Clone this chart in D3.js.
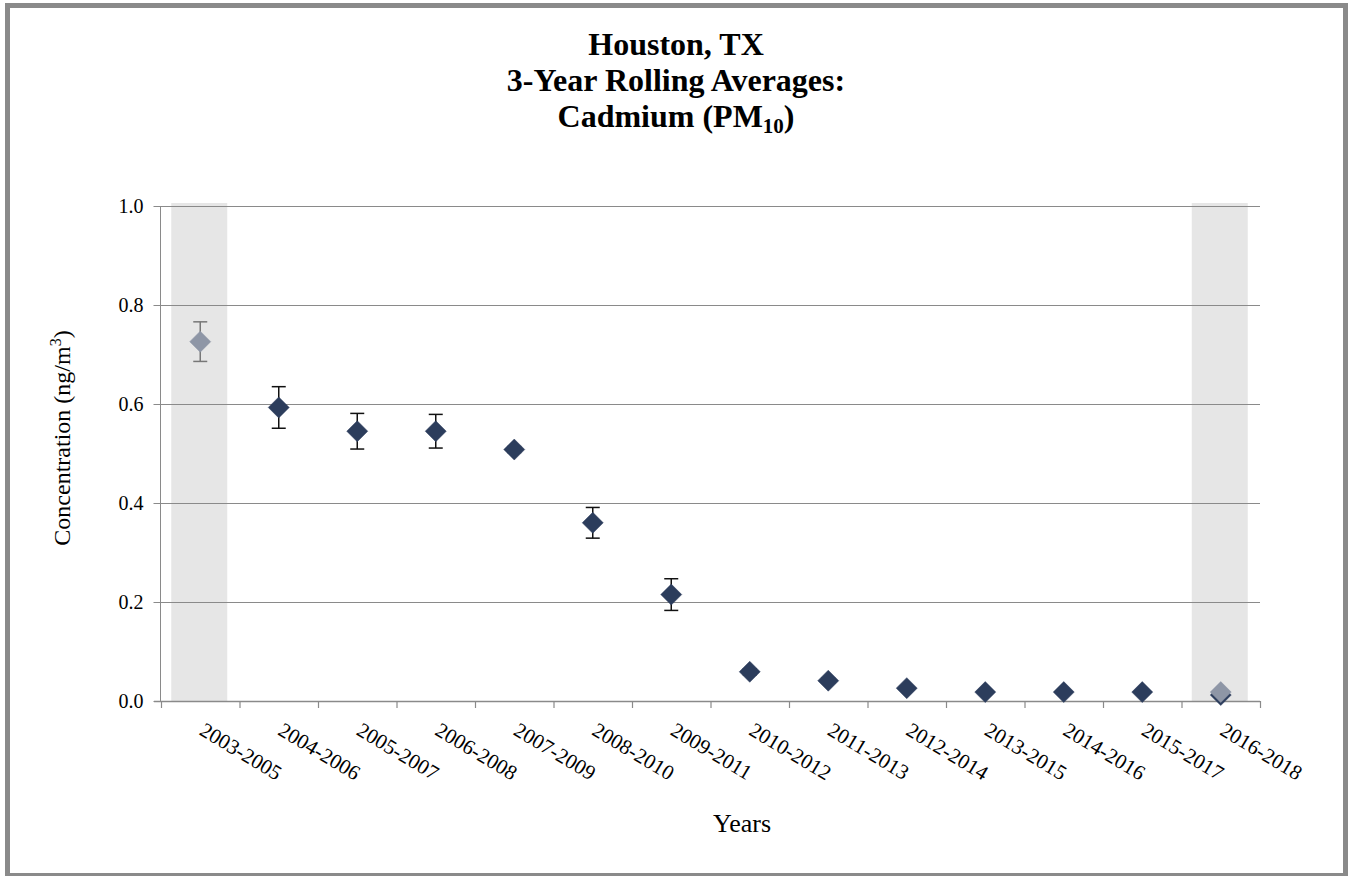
<!DOCTYPE html>
<html>
<head>
<meta charset="utf-8">
<script src="https://cdn.jsdelivr.net/npm/d3@7"></script>
<style>
  html, body { margin: 0; padding: 0; background: #fff; }
  svg { display: block; }
  text { font-family: "Liberation Serif", "Times New Roman", serif; fill: #000; }
</style>
</head>
<body>
<script>
// ---- data ----
const categories = ["2003-2005","2004-2006","2005-2007","2006-2008","2007-2009","2008-2010","2009-2011",
  "2010-2012","2011-2013","2012-2014","2013-2015","2014-2016","2015-2017","2016-2018"];
const mainValues = [null, 0.593, 0.545, 0.545, 0.508, 0.360, 0.215, 0.059, 0.041, 0.026, 0.018, 0.018, 0.018, 0.012];
const mainErrors = [null, 0.042, 0.036, 0.034, 0.006, 0.031, 0.032, 0.006, 0.005, 0.004, 0.003, 0.003, 0.003, 0.003];
const partialValues = [0.726, null, null, null, null, null, null, null, null, null, null, null, null, 0.018];
const partialErrors = [0.040, null, null, null, null, null, null, null, null, null, null, null, null, 0.003];
const shadedCategories = ["2003-2005", "2016-2018"];
const yTicks = [0.0, 0.2, 0.4, 0.6, 0.8, 1.0];

const W = 1352, H = 876;
const svg = d3.select("body").append("svg").attr("width", W).attr("height", H);

// frame
svg.append("rect").attr("x", 7.5).attr("y", 5.5).attr("width", 1338).attr("height", 870)
  .attr("fill", "#fff").attr("stroke", "#8a8a8a").attr("stroke-width", 5);

const x = d3.scaleBand().domain(categories).range([161, 1260]).paddingInner(0).paddingOuter(0);
const y = d3.scaleLinear().domain([0, 1]).range([701, 206]);

// shaded bands
svg.selectAll("rect.shade").data(shadedCategories).enter().append("rect")
  .attr("class", "shade")
  .attr("x", d => x(d) + x.bandwidth() / 2 - 29)
  .attr("y", y(1) - 3)
  .attr("width", 56)
  .attr("height", y(0) - y(1) + 3)
  .attr("fill", "#e6e6e6");

// gridlines + y axis
const yAxis = d3.axisLeft(y).tickValues(yTicks).tickFormat(d3.format(".1f"))
  .tickSize(-(1260 - 161)).tickPadding(12);
const gy = svg.append("g").attr("transform", "translate(160.5,0)").call(yAxis);
gy.select(".domain").attr("stroke", "#8a8a8a").attr("d", `M0,${y(1)}V${y(0)}`);
gy.selectAll(".tick line").attr("stroke", "#8a8a8a").attr("stroke-width", 1.2)
  .attr("x1", -7).attr("x2", 1260 - 160.5);
gy.selectAll(".tick text").attr("font-size", 20).attr("font-family", "Liberation Serif")
  .attr("fill", "#111").attr("x", -17);

// x axis
const boundaries = categories.map(c => x(c)).concat([x.range()[1]]);
const gx = svg.append("g");
gx.append("line").attr("x1", 154).attr("x2", 1260).attr("y1", y(0) + 0.5).attr("y2", y(0) + 0.5)
  .attr("stroke", "#8a8a8a").attr("stroke-width", 1.5);
gx.selectAll("line.tk").data(boundaries).enter().append("line")
  .attr("class", "tk")
  .attr("x1", d => d + 0.5).attr("x2", d => d + 0.5)
  .attr("y1", y(0)).attr("y2", y(0) + 7)
  .attr("stroke", "#8a8a8a").attr("stroke-width", 1.2);
gx.selectAll("text.xl").data(categories).enter().append("text")
  .attr("class", "xl")
  .attr("font-size", 21)
  .attr("text-anchor", "start")
  .attr("transform", d => `translate(${x(d) + x.bandwidth() / 2 - 2},${y(0) + 33}) rotate(31)`)
  .text(d => d);

// error bars + diamonds
const diamond = "M0,-10.5L10.5,0L0,10.5L-10.5,0Z";
function drawSeries(values, errors, fill, barColor) {
  const pts = categories.map((c, i) => ({ c, v: values[i], e: errors[i] })).filter(d => d.v != null);
  const g = svg.append("g");
  const eb = g.selectAll("g.eb").data(pts).enter().append("g").attr("class", "eb");
  eb.append("line")
    .attr("x1", d => x(d.c) + x.bandwidth() / 2).attr("x2", d => x(d.c) + x.bandwidth() / 2)
    .attr("y1", d => y(d.v + d.e)).attr("y2", d => y(d.v - d.e))
    .attr("stroke", barColor).attr("stroke-width", 1.5);
  [1, -1].forEach(s => {
    eb.append("line")
      .attr("x1", d => x(d.c) + x.bandwidth() / 2 - 7).attr("x2", d => x(d.c) + x.bandwidth() / 2 + 7)
      .attr("y1", d => y(d.v + s * d.e)).attr("y2", d => y(d.v + s * d.e))
      .attr("stroke", barColor).attr("stroke-width", 1.5);
  });
  g.selectAll("path").data(pts).enter().append("path")
    .attr("d", diamond)
    .attr("transform", d => `translate(${x(d.c) + x.bandwidth() / 2},${y(d.v)})`)
    .attr("fill", fill).attr("stroke", fill).attr("stroke-width", 0.5);
}
drawSeries(mainValues, mainErrors, "#2c3d5c", "#111");
drawSeries(partialValues, partialErrors, "#8e96a6", "#777");

// title
const title = svg.append("text").attr("text-anchor", "middle").attr("font-weight", "bold").attr("font-size", 32);
title.append("tspan").attr("x", 676).attr("y", 55).text("Houston, TX");
title.append("tspan").attr("x", 676).attr("y", 91).text("3-Year Rolling Averages:");
const t3 = title.append("tspan").attr("x", 676).attr("y", 127);
t3.append("tspan").text("Cadmium (PM");
t3.append("tspan").attr("font-size", 21).attr("dy", 6).text("10");
t3.append("tspan").attr("dy", -6).text(")");

// y title
const yt = svg.append("text").attr("text-anchor", "middle").attr("font-size", 24)
  .attr("transform", "translate(70,438) rotate(-90)");
yt.append("tspan").text("Concentration (ng/m");
yt.append("tspan").attr("font-size", 16).attr("dy", -9).text("3");
yt.append("tspan").attr("dy", 9).text(")");

// x title
svg.append("text").attr("x", 742).attr("y", 832).attr("text-anchor", "middle").attr("font-size", 26).text("Years");
</script>
</body>
</html>
